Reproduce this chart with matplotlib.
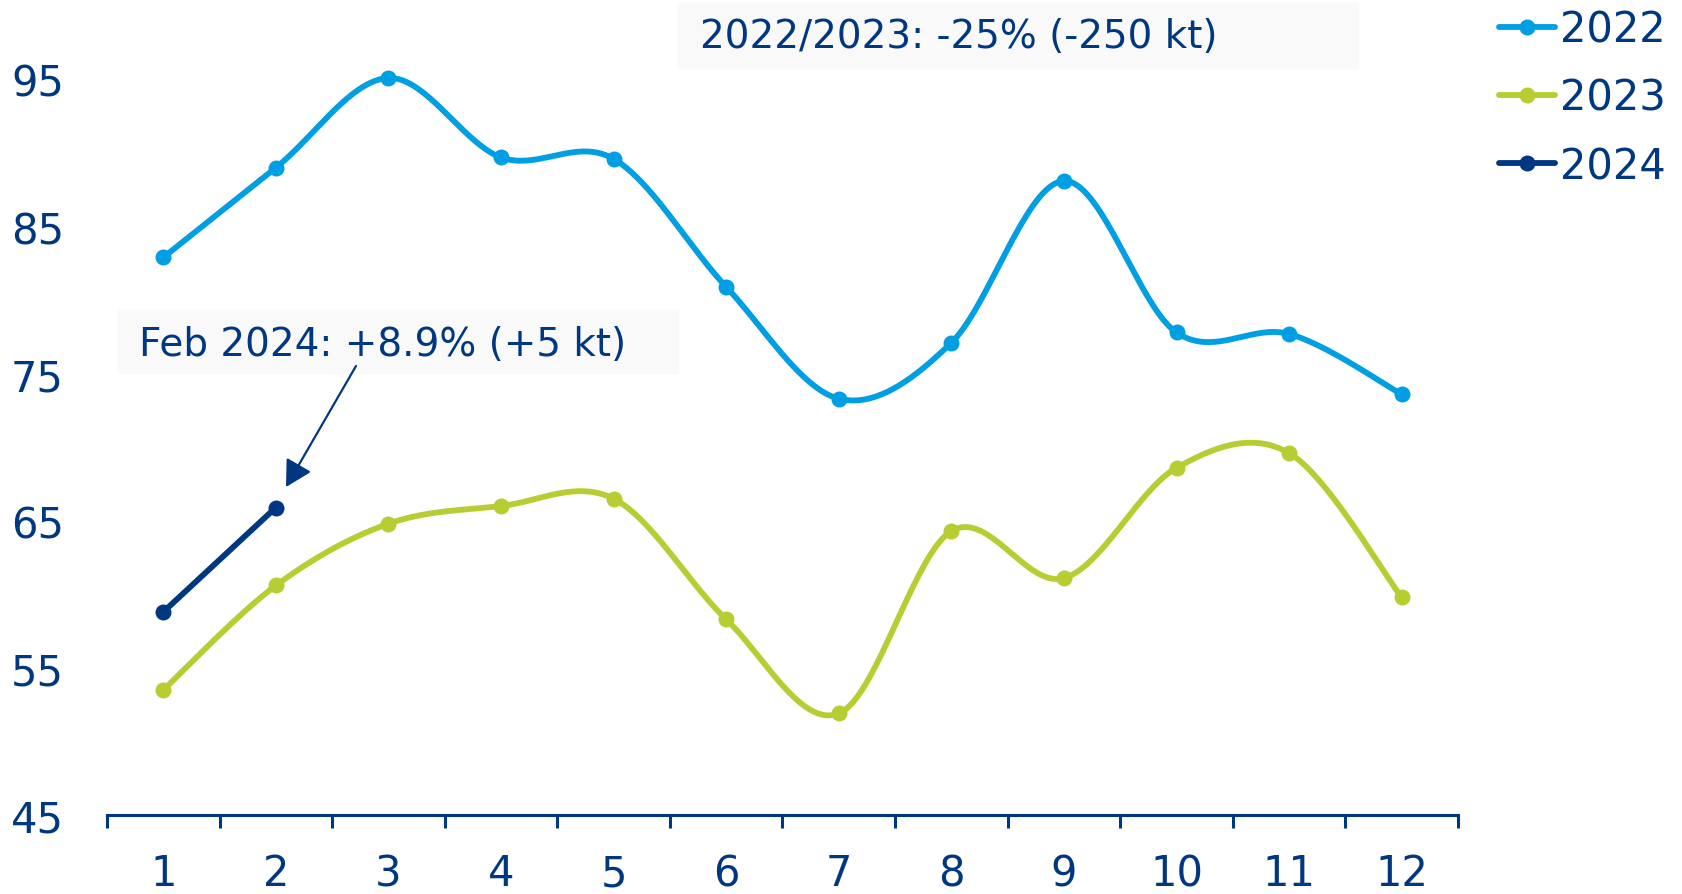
import numpy as np
import matplotlib.pyplot as plt
from matplotlib.patches import Rectangle
from matplotlib.lines import Line2D

months = list(range(1, 13))
y2022 = [82.9, 89.0, 95.1, 89.7, 89.6, 80.9, 73.3, 77.1, 88.1, 77.8, 77.7, 73.6]
y2023 = [53.5, 60.6, 64.8, 66.0, 66.5, 58.3, 51.9, 64.3, 61.1, 68.6, 69.6, 59.8]
y2024 = [58.8, 65.9]
months_2024 = [1, 2]

note_feb = "Feb 2024: +8.9% (+5 kt)"
note_year = "2022/2023: -25% (-250 kt)"

NAVY = "#003781"
BLUE = "#009FE3"
GREEN = "#B7CD31"
BOX = "#F9F9F9"


def smooth(x, y, n=40):
    # Catmull-Rom style bezier, similar to spreadsheet "smoothed line"
    x = np.asarray(x, float)
    y = np.asarray(y, float)
    if len(x) < 3:
        return x, y
    p = np.column_stack([x, y])
    out = []
    t = np.linspace(0, 1, n)[:, None]
    for i in range(len(p) - 1):
        p0 = p[max(i - 1, 0)]
        p1 = p[i]
        p2 = p[i + 1]
        p3 = p[min(i + 2, len(p) - 1)]
        c1 = p1 + (p2 - p0) / 6
        c2 = p2 - (p3 - p1) / 6
        seg = ((1 - t) ** 3) * p1 + 3 * ((1 - t) ** 2) * t * c1 \
            + 3 * (1 - t) * t ** 2 * c2 + t ** 3 * p2
        out.append(seg if i == 0 else seg[1:])
    out = np.vstack(out)
    return out[:, 0], out[:, 1]


def main():
    plt.rcParams['font.family'] = ['DejaVu Sans']
    fig = plt.figure(figsize=(16.82, 8.95), dpi=100)
    ax = fig.add_axes([0.0636, 0.0883, 0.8032, 0.8218])
    ax.patch.set_visible(False)

    series = [
        (months, y2022, BLUE, 4.2, "2022"),
        (months, y2023, GREEN, 4.2, "2023"),
        (months_2024, y2024, NAVY, 4.2, "2024"),
    ]
    handles = []
    for xs, ys, col, lw, lab in series:
        sx, sy = smooth(xs, ys)
        ax.plot(sx, sy, color=col, lw=lw, solid_capstyle='round', clip_on=False)
        ax.plot(xs, ys, 'o', color=col, ms=11.5, mew=0, clip_on=False)
        handles.append(Line2D([], [], color=col, lw=lw, marker='o', ms=11.5,
                              mew=0, solid_capstyle='round', label=lab))

    ax.set_xlim(0.5, 12.5)
    ax.set_ylim(45, 95)
    for s in ['left', 'top', 'right']:
        ax.spines[s].set_visible(False)
    ax.spines['bottom'].set_color(NAVY)
    ax.spines['bottom'].set_linewidth(2.2)

    ax.set_xticks(np.arange(0.5, 13, 1))
    ax.set_xticklabels([])
    ax.set_xticks(months, minor=True)
    ax.set_xticklabels([str(m) for m in months], minor=True)
    ax.tick_params(axis='x', which='major', length=9.5, width=2.2, color=NAVY)
    ax.tick_params(axis='x', which='minor', length=0, pad=27,
                   labelsize=30, labelcolor=NAVY)
    ax.set_yticks(range(45, 96, 10))
    ax.tick_params(axis='y', length=0, pad=31, labelsize=30, labelcolor=NAVY)

    leg = fig.legend(handles=handles, loc='upper left',
                     bbox_to_anchor=(0.881, 1.008), frameon=False,
                     fontsize=30, handlelength=1.35, handletextpad=0.12,
                     labelspacing=0.63, borderaxespad=0)
    for t in leg.get_texts():
        t.set_color(NAVY)

    # annotation boxes (behind the axes contents)
    fig.patches.append(Rectangle((0.0702, 0.5821), 0.3330, 0.0704,
                                 transform=fig.transFigure, color=BOX, zorder=-1))
    fig.patches.append(Rectangle((0.4031, 0.9229), 0.4043, 0.0726,
                                 transform=fig.transFigure, color=BOX, zorder=-1))
    fig.text(0.0826, 0.6145, note_feb, fontsize=28, color=NAVY, va='center')
    fig.text(0.4162, 0.9587, note_year, fontsize=28, color=NAVY, va='center')

    ax.annotate("", xy=(286, 407), xycoords='figure pixels',
                xytext=(356, 528), textcoords='figure pixels',
                arrowprops=dict(arrowstyle='-|>,head_length=0.4,head_width=0.22',
                                mutation_scale=40, lw=1.6, color=NAVY,
                                shrinkA=0, shrinkB=0))

    fig.savefig("out.png", dpi=100)


if __name__ == "__main__":
    main()
